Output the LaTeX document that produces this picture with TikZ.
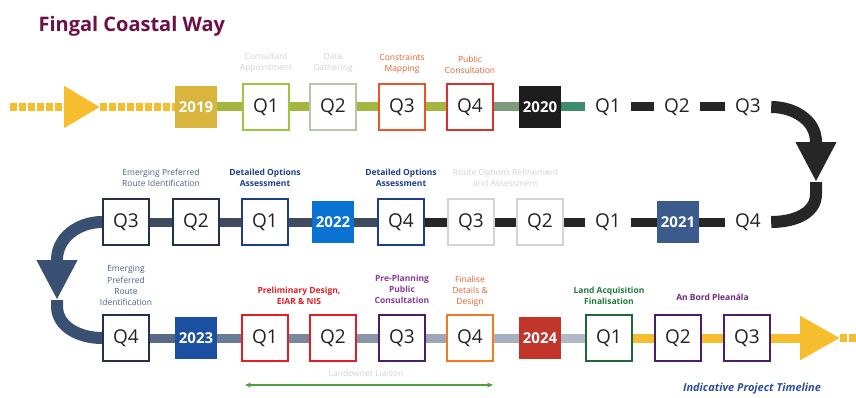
\documentclass[tikz,border=0pt]{standalone}
\usepackage{fontspec}
\setmainfont{Open Sans}
\usetikzlibrary{positioning}
\usetikzlibrary{calc}
\usetikzlibrary{arrows.meta}

\definecolor{fcwTitle}{HTML}{6E1046}
\definecolor{qInk}{HTML}{222222}
% years
\definecolor{yrA}{HTML}{D9B53D}
\definecolor{yrB}{HTML}{1C1C1C}
\definecolor{yrC}{HTML}{3C5B8D}
\definecolor{yrD}{HTML}{0A72D3}
\definecolor{yrE}{HTML}{1A4FA1}
\definecolor{yrF}{HTML}{C1352B}
% box borders
\definecolor{bxLime}{HTML}{9CC63E}
\definecolor{bxSage}{HTML}{B7C6A8}
\definecolor{bxOrange}{HTML}{E9552B}
\definecolor{bxRed}{HTML}{D8322E}
\definecolor{bxFaint}{HTML}{D4D4D4}
\definecolor{bxNavy}{HTML}{1D3C8C}
\definecolor{bxInk}{HTML}{22324F}
\definecolor{bxPurple}{HTML}{4B1F68}
\definecolor{bxAmber}{HTML}{F27A22}
\definecolor{bxGreen}{HTML}{1D6A38}
% bars
\definecolor{brOlive}{HTML}{A6B442}
\definecolor{brSage}{HTML}{7D9A7A}
\definecolor{brTeal}{HTML}{3C8C6E}
\definecolor{brBlack}{HTML}{262626}
\definecolor{brSlate}{HTML}{3F4B5E}
\definecolor{brYellow}{HTML}{F6BE2E}
\definecolor{turnSlate}{HTML}{3A5072}
% labels
\definecolor{lbOrange}{HTML}{E8622C}
\definecolor{lbSlate}{HTML}{4C6384}
\definecolor{lbNavy}{HTML}{1C3F8F}
\definecolor{lbRed}{HTML}{E41E26}
\definecolor{lbMagenta}{HTML}{8A3A98}
\definecolor{lbPurple}{HTML}{6C2A7E}
\definecolor{lbGreen}{HTML}{1F7A3C}
\definecolor{lbFaint}{HTML}{D2D2D2}
\definecolor{lbBlue}{HTML}{2E4FA0}
\definecolor{liaison}{HTML}{4E9F3D}

\tikzset{
	tl_q/.style = {rectangle, minimum size=46pt, inner sep=0pt, text=qInk,
		font=\fontsize{19}{19}\selectfont},% bare quarter
	tl_qb/.style = {tl_q, draw=#1, fill=white, line width=2pt},% boxed quarter
	tl_yr/.style = {rectangle, minimum size=42pt, inner sep=0pt, fill=#1,
		text=white, font=\fontsize{15}{15}\selectfont\bfseries},% year block
	tl_lbl/.style = {align=center, inner sep=0pt, text=#1,
		font=\fontsize{8.5}{11.3}\selectfont},% step caption
	tl_lblb/.style = {tl_lbl=#1, font=\fontsize{8.5}{11.3}\selectfont\bfseries},
	tl_bar/.style = {line width=9pt, draw=#1},% link between steps
	tl_turn/.style = {line width=12pt, draw=#1,
		-{Triangle[width=38pt,length=40pt]}},% bend with big head
	tl_dash/.style = {line width=8pt, draw=#1, dash pattern=on 7pt off 2pt}
}

\begin{document}
\begin{tikzpicture}[x=1pt, y=1pt]
	\useasboundingbox (0,0) rectangle (856,397);

	\node[anchor=base west, text=fcwTitle, font=\fontsize{20}{20}\selectfont\bfseries]
		(title) at (35,365) {Fingal Coastal Way};

	% --- 2019 / 2020 ---
	\coordinate (st0) at (10,290);
	\coordinate (st1) at (100,290);
	\node[tl_yr=yrA] (y19) at (196,290) {2019};
	\node[tl_qb=bxLime] (q1a) at (266,290) {Q1};
	\node[tl_qb=bxSage] (q2a) at (333,290) {Q2};
	\node[tl_qb=bxOrange] (q3a) at (402,290) {Q3};
	\node[tl_qb=bxRed] (q4a) at (470,290) {Q4};
	\node[tl_yr=yrB] (y20) at (540,290) {2020};
	\node[tl_q] (q1b) at (608,290) {Q1};
	\node[tl_q] (q2b) at (677,290) {Q2};
	\node[tl_q] (q3b) at (748,290) {Q3};
	\coordinate (bend1) at (816,255);
	\coordinate (tip1) at (816,215);

	\draw[tl_dash=brYellow, -{Triangle[width=40pt,length=36pt]}] (st0) -- (st1);
	\draw[tl_dash=brYellow] (st1) -- (y19);
	\draw[tl_bar=brOlive] (y19) -- (q1a);
	\draw[tl_bar=brOlive] (q1a) -- (q2a);
	\draw[tl_bar=brOlive] (q2a) -- (q3a);
	\draw[tl_bar=brOlive] (q3a) -- (q4a);
	\draw[tl_bar=brSage] (q4a) -- (y20);
	\draw[tl_bar=brTeal] (y20) -- (q1b);
	\draw[tl_bar=brBlack] (q1b) -- (q2b);
	\draw[tl_bar=brBlack] (q2b) -- (q3b);
	\draw[tl_turn=brBlack] (q3b.east) to[out=0,in=90] (bend1) -- (tip1);

	\node[tl_lbl=lbFaint, above=10pt of q1a] (l_q1a) {Consultant\\Appointment};
	\node[tl_lbl=lbFaint, above=10pt of q2a] (l_q2a) {Data\\Gathering};
	\node[tl_lbl=lbOrange, above=9pt of q3a] (l_q3a) {Constraints\\Mapping};
	\node[tl_lbl=lbOrange, above=9pt of q4a] (l_q4a) {Public\\Consultation};

	% --- 2021 / 2022, right to left ---
	\coordinate (bend2) at (816,203);
	\node[tl_q] (q4c) at (748,175) {Q4};
	\node[tl_yr=yrC] (y21) at (678,175) {2021};
	\node[tl_q] (q1c) at (608,175) {Q1};
	\node[tl_qb=bxFaint, line width=1.5pt] (q2c) at (540,175) {Q2};
	\node[tl_qb=bxFaint, line width=1.5pt] (q3c) at (471,175) {Q3};
	\node[tl_qb=bxNavy] (q4d) at (401,175) {Q4};
	\node[tl_yr=yrD] (y22) at (333,175) {2022};
	\node[tl_qb=bxNavy] (q1d) at (265,175) {Q1};
	\node[tl_qb=bxInk] (q2d) at (196,175) {Q2};
	\node[tl_qb=bxInk] (q3d) at (126,175) {Q3};
	\coordinate (bend3) at (57,137);
	\coordinate (tip2) at (57,97);

	\draw[line width=12pt, brBlack] (tip1) -- (bend2) to[out=-90,in=0] (q4c.east);
	\draw[tl_bar=brBlack] (q4c) -- (y21);
	\draw[tl_bar=brBlack] (y21) -- (q1c);
	\draw[tl_bar=brBlack] (q1c) -- (q2c);
	\draw[tl_bar=brBlack] (q2c) -- (q3c);
	\draw[tl_bar=brBlack] (q3c) -- (q4d);
	\draw[tl_bar=brSlate] (q4d) -- (y22);
	\draw[tl_bar=brSlate] (y22) -- (q1d);
	\draw[tl_bar=brSlate] (q1d) -- (q2d);
	\draw[tl_bar=brSlate] (q2d) -- (q3d);
	\draw[tl_turn=turnSlate] (q3d.west) to[out=180,in=90] (bend3) -- (tip2);

	\node[tl_lbl=lbSlate, anchor=south] (l_route1)
		at ($(q3d.north)!.5!(q2d.north)+(0,11)$) {Emerging Preferred\\Route Identification};
	\node[tl_lblb=lbNavy, above=11pt of q1d] (l_q1d) {Detailed Options\\Assessment};
	\node[tl_lblb=lbNavy, above=11pt of q4d] (l_q4d) {Detailed Options\\Assessment};
	\node[tl_lbl=lbFaint, anchor=south] (l_q3c)
		at ($(q3c.north)!.5!(q2c.north)+(0,11)$) {Route Options Refinement\\and Assessment};

	% --- 2023 / 2024 ---
	\coordinate (bend4) at (57,91);
	\node[tl_qb=bxInk] (q4e) at (126,59) {Q4};
	\node[tl_yr=yrE] (y23) at (196,59) {2023};
	\node[tl_qb=lbRed] (q1e) at (265,59) {Q1};
	\node[tl_qb=lbRed] (q2e) at (333,59) {Q2};
	\node[tl_qb=bxPurple] (q3e) at (402,59) {Q3};
	\node[tl_qb=bxAmber] (q4f) at (470,59) {Q4};
	\node[tl_yr=yrF] (y24) at (540,59) {2024};
	\node[tl_qb=bxGreen] (q1f) at (609,59) {Q1};
	\node[tl_qb=bxPurple] (q2f) at (678,59) {Q2};
	\node[tl_qb=bxPurple] (q3f) at (747,59) {Q3};
	\coordinate (tip3) at (840,59);
	\coordinate (end3) at (856,59);

	\draw[line width=12pt, turnSlate] (tip2) -- (bend4) to[out=-90,in=180] (q4e.west);
	\draw[tl_bar=turnSlate!85!white] (q4e) -- (y23);
	\draw[tl_bar=turnSlate!75!white] (y23) -- (q1e);
	\draw[tl_bar=turnSlate!68!white] (q1e) -- (q2e);
	\draw[tl_bar=turnSlate!60!white] (q2e) -- (q3e);
	\draw[tl_bar=turnSlate!50!white] (q3e) -- (q4f);
	\draw[tl_bar=turnSlate!45!white] (q4f) -- (y24);
	\draw[tl_bar=turnSlate!40!white] (y24) -- (q1f);
	\draw[tl_bar=brYellow] (q1f) -- (q2f);
	\draw[tl_bar=brYellow] (q2f) -- (q3f);
	\draw[tl_bar=brYellow, -{Triangle[width=42pt,length=40pt]}] (q3f) -- (tip3);
	\draw[tl_dash=brYellow] (tip3) -- (end3);

	\node[tl_lbl=lbSlate, above=8pt of q4e] (l_route2) {Emerging\\Preferred\\Route\\Identification};
	\node[tl_lblb=lbRed, anchor=south] (l_prelim)
		at ($(q1e.north)!.5!(q2e.north)+(0,9)$) {Preliminary Design,\\EIAR \& NIS};
	\node[tl_lblb=lbMagenta, above=10pt of q3e] (l_q3e) {Pre-Planning\\Public\\Consultation};
	\node[tl_lbl=lbOrange, above=7pt of q4f] (l_q4f) {Finalise\\Details \&\\Design};
	\node[tl_lblb=lbGreen, above=9pt of q1f] (l_q1f) {Land Acquisition\\Finalisation};
	\node[tl_lblb=lbPurple, anchor=south] (l_abp)
		at ($(q2f.north)!.5!(q3f.north)+(0,13)$) {An Bord Pleanála};

	% landowner liaison span
	\coordinate (ll0) at (245,12);
	\coordinate (ll1) at (493,12);
	\draw[line width=1.5pt, liaison, {Stealth[length=6pt,width=5pt]}-{Stealth[length=6pt,width=5pt]}] (ll0) -- (ll1);
	\node[tl_lbl=lbFaint] (l_liaison) at (366,24) {Landowner Liaison};

	\node[text=lbBlue, font=\fontsize{11}{11}\selectfont\bfseries\itshape] (caption) at (752,8)
		{Indicative Project Timeline};
\end{tikzpicture}
\end{document}
